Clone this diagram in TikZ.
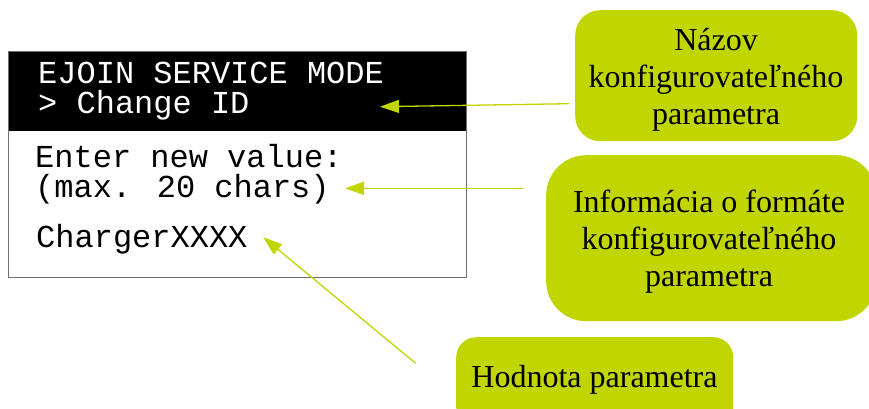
\documentclass[tikz,border=0pt]{standalone}
\usepackage{fontspec}
\setmainfont{Liberation Serif}
\newfontfamily\dispfont{Liberation Mono}
\usetikzlibrary{arrows.meta,calc}
\definecolor{lime}{RGB}{193,214,0}
\definecolor{framegray}{RGB}{110,110,110}
\begin{document}
\begin{tikzpicture}[x=1pt,y=-1pt,
  disp/.style={anchor=base west,inner sep=0,font=\dispfont\fontsize{32}{36}\selectfont},
  note/.style={fill=lime,draw=none,inner sep=0,anchor=north west},
  notetext/.style={align=center,font=\fontsize{32}{37}\selectfont,inner sep=0},
  pointer/.style={draw=lime,line width=1.3pt,-{Triangle[length=19pt,width=13pt]}}]
\useasboundingbox (0,0) rectangle (869,408);
\clip (0,0) rectangle (869,408);
% display
\fill[black] (8,51) rectangle (466,131);
\node[draw=framegray,line width=1.3pt,minimum width=458pt,minimum height=226pt,anchor=north west,inner sep=0] (screen) at (8,51) {};
\node[disp,text=white] (l1) at (38,83.5) {EJOIN SERVICE MODE};
\node[disp,text=white] (l2) at (38,113) {> Change ID};
\node[disp] (l3) at (35,167) {Enter new value:};
\node[disp] (l4) at (35,197) {(max. 20 chars)};
\node[disp] (l5) at (36,247) {ChargerXXXX};
% notes
\node[note,rounded corners=25pt,minimum width=282pt,minimum height=131pt] (n1) at (575,10) {};
\node[notetext] (t1) at (716,79.6) {Názov\\konfigurovateľného\\parametra};
\node[note,rounded corners=40pt,minimum width=330pt,minimum height=166pt] (n2) at (546,155) {};
\node[notetext] (t2) at (709,242) {Informácia o formáte\\konfigurovateľného\\parametra};
\node[note,rounded corners=20pt,minimum width=277pt,minimum height=90pt] (n3) at (456,337) {};
\node[notetext,anchor=base] (t3) at (594.5,387) {Hodnota parametra};
% pointers
\coordinate (a1s) at (569,103.7);
\coordinate (a1t) at (380,106.7);
\coordinate (a2s) at (522.7,188.3);
\coordinate (a2t) at (345,188.3);
\coordinate (a3s) at (415.7,363.3);
\coordinate (a3t) at (263.3,237.3);
\draw[pointer] (a1s) -- (a1t);
\draw[pointer] (a2s) -- (a2t);
\draw[pointer] (a3s) -- (a3t);
\end{tikzpicture}
\end{document}
